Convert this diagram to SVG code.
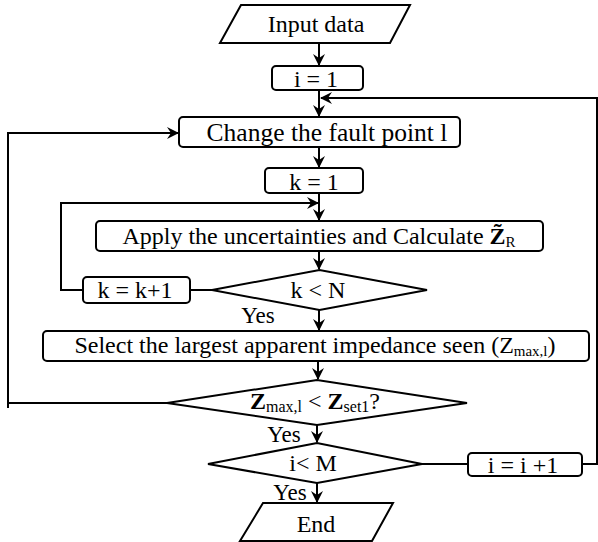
<svg xmlns="http://www.w3.org/2000/svg" width="598" height="542" viewBox="0 0 598 542">
<style>
.n{fill:#fff;stroke:#000;stroke-width:2;stroke-linejoin:miter}
.t{font-family:"Liberation Serif","Times New Roman",serif;font-size:24px;fill:#000;text-anchor:middle}
.c{fill:none;stroke:#000;stroke-width:2}
.a{marker-end:url(#ah)}
</style>
<defs>
<marker id="ah" viewBox="0 0 12 12" refX="11" refY="6" markerWidth="12" markerHeight="12" markerUnits="userSpaceOnUse" orient="auto">
<path d="M0,0 L12,6 L0,12 L4,6 z" fill="#000"/>
</marker>
</defs>
<rect width="598" height="542" fill="#fff"/>
<g id="connectors">
<path class="c a" d="M319,43 V65"/>
<path class="c a" d="M319,90 V116"/>
<path class="c a" d="M582,464 H597 V98 H321"/>
<path class="c a" d="M319,147 V167"/>
<path class="c a" d="M319,193 V220"/>
<path class="c a" d="M83,290 H61 V203 H318"/>
<path class="c a" d="M319,251 V269"/>
<path class="c" d="M212,290 H190"/>
<path class="c a" d="M319,310 V330"/>
<path class="c a" d="M318,361 V379"/>
<path class="c a" d="M167,403 H8 V133 H178"/>
<path class="c" d="M8,403 V408"/>
<path class="c a" d="M317,425 V442"/>
<path class="c" d="M422,464 H468"/>
<path class="c a" d="M317,483 V502"/>
</g>
<g id="input">
<polygon class="n" points="241,5 410,5 390,43 220,43"/>
<text class="t" x="316" y="32">Input data</text>
</g>
<g id="i1">
<rect class="n" x="272" y="66" width="91" height="24" rx="4"/>
<text class="t" x="316" y="87">i = 1</text>
</g>
<g id="change">
<rect class="n" x="179" y="117" width="281" height="30" rx="4"/>
<text class="t" x="327" y="141" style="font-size:25.5px">Change the fault point l</text>
</g>
<g id="k1">
<rect class="n" x="265" y="168" width="98" height="25" rx="4"/>
<text class="t" x="314" y="190">k = 1</text>
</g>
<g id="apply">
<rect class="n" x="96" y="221" width="447" height="30" rx="4"/>
<text class="t" x="319" y="244">Apply the uncertainties and Calculate <tspan font-weight="bold">Z̃</tspan><tspan font-size="15" dy="3">R</tspan></text>
</g>
<g id="kinc">
<rect class="n" x="83" y="277" width="107" height="26" rx="4"/>
<text class="t" x="135" y="298">k = k+1</text>
</g>
<g id="kN">
<polygon class="n" points="212,290 319.5,270 427,290 319.5,310"/>
<text class="t" x="318" y="298">k &lt; N</text>
</g>
<text class="t" x="258" y="323" style="font-size:23px">Yes</text>
<g id="select">
<rect class="n" x="43" y="331" width="546" height="30" rx="4"/>
<text class="t" x="315" y="353">Select the largest apparent impedance seen (Z<tspan font-size="15" dy="3">max,l</tspan><tspan dy="-3">)</tspan></text>
</g>
<g id="zcheck">
<polygon class="n" points="167,403 317,380 467,403 317,425"/>
<text class="t" x="315" y="409"><tspan font-weight="bold">Z</tspan><tspan font-size="16" dy="3">max,l</tspan><tspan dy="-3"> &lt; </tspan><tspan font-weight="bold">Z</tspan><tspan font-size="16" dy="3">set1</tspan><tspan dy="-3">?</tspan></text>
</g>
<text class="t" x="284" y="442" style="font-size:23px">Yes</text>
<g id="iM">
<polygon class="n" points="208,464 317,443 422,464 317,483"/>
<text class="t" x="313" y="471">i&lt; M</text>
</g>
<g id="iinc">
<rect class="n" x="468" y="453" width="114" height="23" rx="4"/>
<text class="t" x="523" y="473">i = i +1</text>
</g>
<text class="t" x="290" y="500" style="font-size:23px">Yes</text>
<g id="end">
<polygon class="n" points="263,503 393,503 372,541 240,541"/>
<text class="t" x="316" y="532">End</text>
</g>
</svg>
